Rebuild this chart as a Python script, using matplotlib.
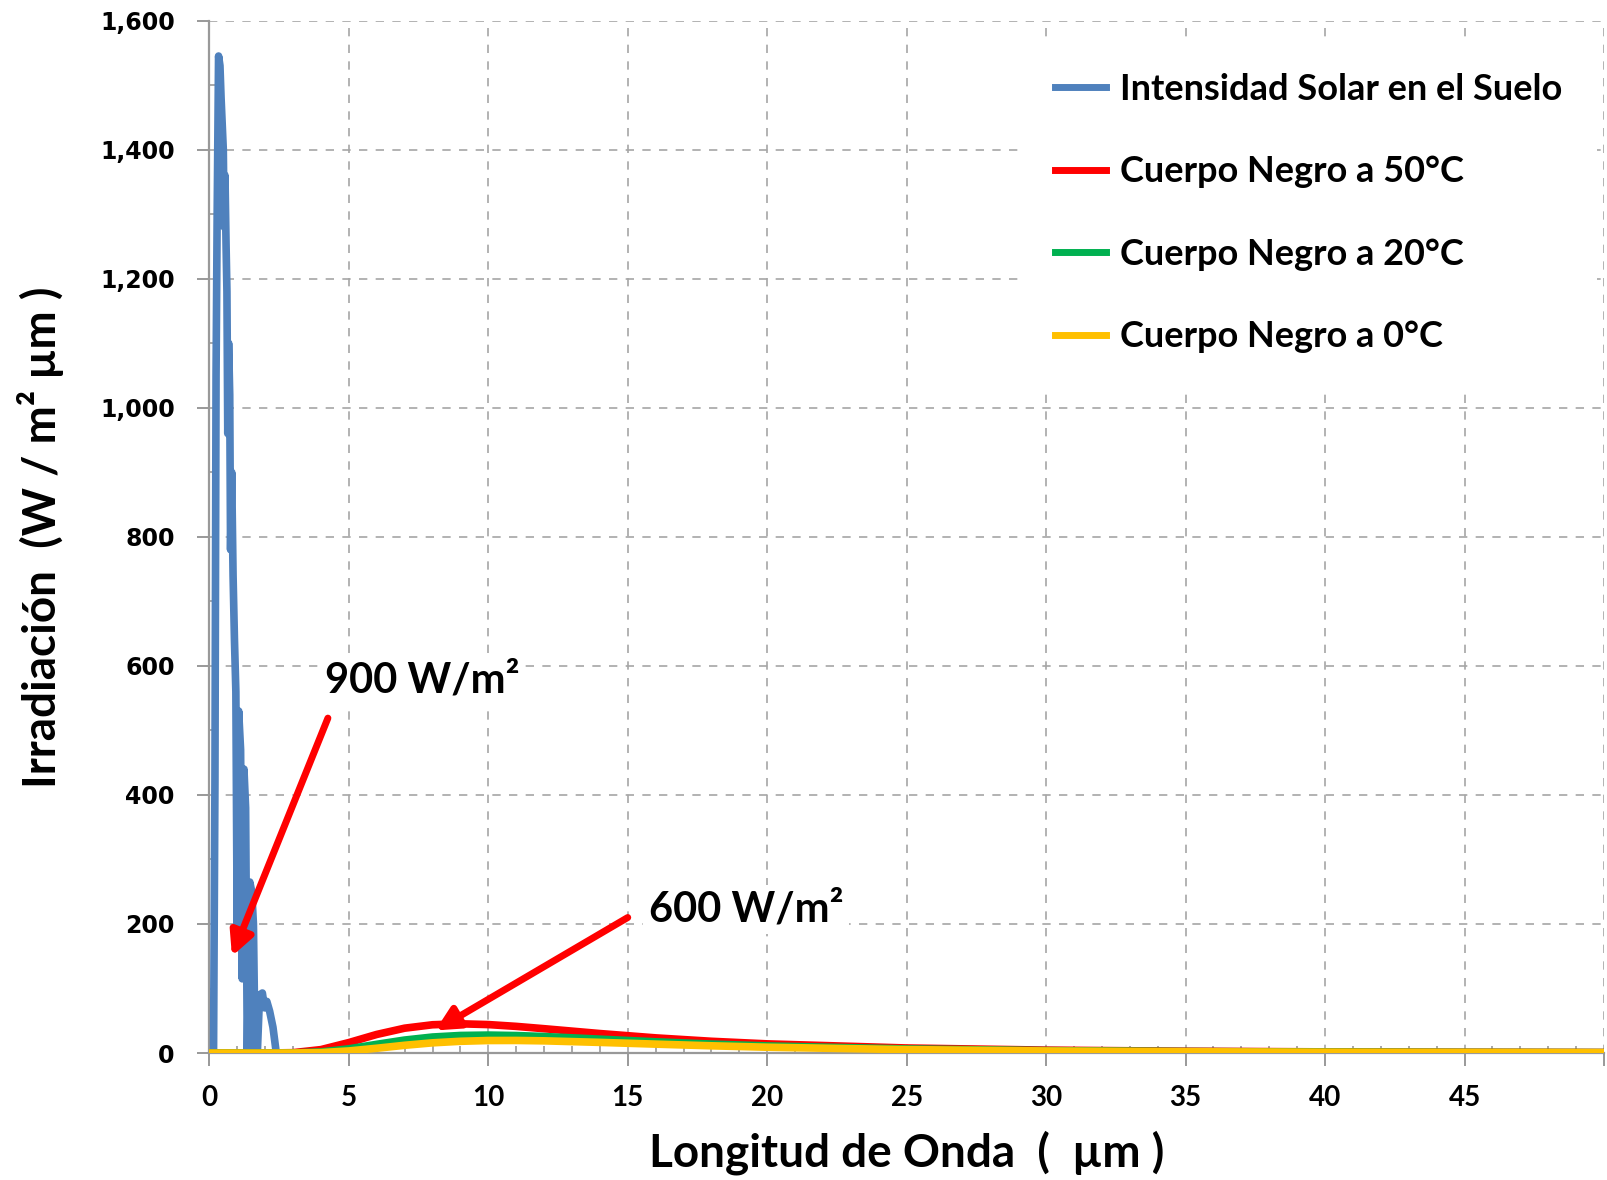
import matplotlib
matplotlib.use("Agg")
import matplotlib.pyplot as plt
from matplotlib.ticker import MultipleLocator, FuncFormatter

# solar spectrum at ground level
solar_x = [0.10, 0.15, 0.20, 0.24, 0.28, 0.33, 0.38, 0.42, 0.46, 0.50, 0.53, 0.56,
           0.60, 0.63, 0.66, 0.69, 0.73, 0.76, 0.80, 0.85, 0.90, 0.95, 1.00, 1.05,
           1.12, 1.18, 1.24, 1.30, 1.36, 1.45, 1.52, 1.58, 1.64, 1.72, 1.80, 1.90,
           1.98, 2.06, 2.16, 2.28, 2.40]
solar_y = [0, 0, 420, 1050, 1300, 1545, 1530, 1480, 1440, 1400, 1280, 1360,
           1250, 1180, 960, 1100, 1020, 780, 900, 740, 640, 560, 170, 530,
           470, 115, 440, 380, 0, 265, 250, 200, 0, 0, 90, 93,
           70, 80, 65, 40, 0]

# blackbody curves
bb_x = [0, 1, 2, 3, 4, 5, 6, 7, 8, 9, 10, 11, 12, 14, 16, 18, 20, 25, 30, 35, 40, 45, 50]
bb_50 = [0, 0, 0, 0.55, 5.3, 16.2, 28.8, 38.5, 43.8, 45.3, 44.1, 41.3, 37.7, 30.2,
         23.5, 18.2, 14.2, 7.8, 4.5, 2.8, 1.8, 1.2, 0.8]
bb_20 = [0, 0, 0, 0.12, 1.7, 6.5, 13.5, 20.1, 24.8, 27.2, 27.8, 27.1, 25.6, 21.5,
         17.4, 13.9, 11.0, 6.3, 3.7, 2.3, 1.5, 1.0, 0.7]
bb_0 = [0, 0, 0, 0.04, 0.7, 3.2, 7.4, 12.0, 15.8, 18.2, 19.4, 19.5, 18.9, 16.5,
        13.8, 11.2, 9.0, 5.3, 3.2, 2.0, 1.3, 0.9, 0.6]

labels = ["Intensidad Solar en el Suelo", "Cuerpo Negro a 50°C",
          "Cuerpo Negro a 20°C", "Cuerpo Negro a 0°C"]
colors = ["#4F81BD", "#FF0000", "#00B050", "#FFC000"]

fig = plt.figure(figsize=(16.08, 11.8), dpi=100)
ax = fig.add_axes([0.1302, 0.1076, 0.8673, 0.875])

lw = 5.5
ax.plot(solar_x, solar_y, color=colors[0], lw=lw, label=labels[0], solid_joinstyle="round", zorder=3)
ax.plot(bb_x, bb_50, color=colors[1], lw=lw, label=labels[1], zorder=4)
ax.plot(bb_x, bb_20, color=colors[2], lw=lw, label=labels[2], zorder=5)
ax.plot(bb_x, bb_0, color=colors[3], lw=lw, label=labels[3], zorder=6)

ax.set_xlim(0, 50)
ax.set_ylim(0, 1600)
ax.xaxis.set_major_locator(MultipleLocator(5))
ax.xaxis.set_minor_locator(MultipleLocator(1))
ax.yaxis.set_major_locator(MultipleLocator(200))
ax.yaxis.set_minor_locator(MultipleLocator(100))
ax.yaxis.set_major_formatter(FuncFormatter(lambda v, p: "{:,.0f}".format(v)))
ax.xaxis.set_major_formatter(FuncFormatter(lambda v, p: "" if v >= 50 else "%d" % v))

ax.grid(True, which="major", color="#A6A6A6", lw=1.2, dashes=(5, 5))
ax.set_axisbelow(True)
for s in ["top", "right"]:
    ax.spines[s].set_visible(False)
for s in ["left", "bottom"]:
    ax.spines[s].set_color("#999999")
    ax.spines[s].set_linewidth(1.6)

ax.tick_params(which="major", direction="out", length=9, width=1.4, color="#999999")
ax.tick_params(which="minor", direction="in", length=5, width=1.2, color="#999999")
ax.tick_params(axis="y", which="major", pad=16)
ax.tick_params(axis="x", which="major", pad=14)
for t in ax.get_yticklabels():
    t.set_fontfamily("DejaVu Sans")
    t.set_fontweight("bold")
    t.set_fontsize(17)
for t in ax.get_xticklabels():
    t.set_fontfamily("Lato")
    t.set_fontweight("bold")
    t.set_fontsize(20)

ax.set_xlabel("Longitud de Onda  (  µm )", fontfamily="Lato", fontweight="bold", fontsize=33, labelpad=14)
ax.set_ylabel("Irradiación  (W / m² µm )", fontfamily="Lato", fontweight="bold", fontsize=33, labelpad=26)

leg = ax.legend(loc="upper left", bbox_to_anchor=(0.569, 1.0), frameon=True, facecolor="white",
                edgecolor="none", framealpha=1, fancybox=False,
                prop={"family": "Lato", "weight": "bold", "size": 26},
                handlelength=1.4, handletextpad=0.4, labelspacing=1.37, borderpad=0.95)
leg.set_zorder(10)
for h in leg.get_lines():
    h.set_linewidth(5)

arrow = dict(arrowstyle="-|>", color="red", lw=5, mutation_scale=35, shrinkA=0, shrinkB=0)
ax.annotate("", xy=(0.81, 150), xytext=(4.25, 519), arrowprops=arrow, zorder=8)
ax.annotate("", xy=(8.1, 35), xytext=(15.0, 210), arrowprops=arrow, zorder=8)

ax.text(4.16, 578, "900 W/m²", fontfamily="Lato", fontweight="bold", fontsize=30,
        va="center", ha="left", zorder=9,
        bbox=dict(facecolor="white", edgecolor="none", pad=4))
ax.text(15.75, 222, "600 W/m²", fontfamily="Lato", fontweight="bold", fontsize=30,
        va="center", ha="left", zorder=9,
        bbox=dict(facecolor="white", edgecolor="none", pad=4))

plt.savefig("out.png", dpi=100)
